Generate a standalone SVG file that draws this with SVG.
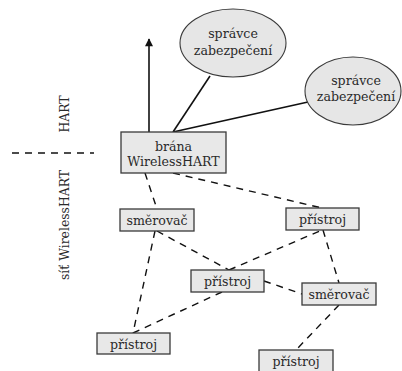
<svg xmlns="http://www.w3.org/2000/svg" width="402" height="371" viewBox="0 0 402 371">
  <defs>
    <marker id="arrow" viewBox="0 0 10 10" refX="9" refY="5" markerWidth="10" markerHeight="8" markerUnits="userSpaceOnUse" orient="auto">
      <path d="M0,0 L10,5 L0,10 Z" fill="#111"/>
    </marker>
    <style>
      .box { fill: #e8e8e8; stroke: #3a3a3a; stroke-width: 1.3; }
      .oval { fill: #e6e6e6; stroke: #3a3a3a; stroke-width: 1.1; }
      .lbl { font-family: "DejaVu Serif", "Liberation Serif", serif; font-size: 12.6px; fill: #2a2a2a; text-anchor: middle; }
      .side { font-family: "DejaVu Serif", "Liberation Serif", serif; font-size: 12.4px; fill: #2a2a2a; text-anchor: middle; }
      .solid { fill: none; stroke: #111; stroke-width: 1.6; }
      .dash { fill: none; stroke: #111; stroke-width: 1.4; stroke-dasharray: 7 6; }
    </style>
  </defs>

  <!-- region divider and side labels -->
  <g id="divider">
    <line class="dash" x1="12" y1="153" x2="94" y2="153"/>
    <text class="side" transform="translate(69,114) rotate(-90)">HART</text>
    <text class="side" transform="translate(69,225) rotate(-90)">síť WirelessHART</text>
  </g>

  <!-- connectors -->
  <g id="connectors">
    <line class="solid" x1="149" y1="132" x2="149" y2="39" marker-end="url(#arrow)"/>
    <line class="solid" x1="173" y1="132" x2="210" y2="76"/>
    <line class="solid" x1="173" y1="132" x2="308" y2="102"/>
    <line class="dash" x1="145" y1="173" x2="157" y2="209"/>
    <line class="dash" x1="173" y1="173" x2="322" y2="208"/>
    <line class="dash" x1="157" y1="231" x2="229" y2="270"/>
    <line class="dash" x1="155" y1="231" x2="133" y2="333"/>
    <line class="dash" x1="222" y1="292" x2="133" y2="333"/>
    <line class="dash" x1="229" y1="270" x2="322" y2="230"/>
    <line class="dash" x1="323" y1="230" x2="339" y2="283"/>
    <line class="dash" x1="264" y1="281" x2="302" y2="294"/>
    <line class="dash" x1="339" y1="305" x2="296" y2="350"/>
  </g>

  <g id="security-manager-1">
    <ellipse class="oval" cx="233" cy="43" rx="53" ry="34"/>
    <text class="lbl" x="233" y="38">správce</text>
    <text class="lbl" x="233" y="55">zabezpečení</text>
  </g>

  <g id="security-manager-2">
    <ellipse class="oval" cx="353" cy="91" rx="48" ry="34"/>
    <text class="lbl" x="356" y="85">správce</text>
    <text class="lbl" x="356" y="101">zabezpečení</text>
  </g>

  <g id="gateway">
    <rect class="box" x="121" y="132" width="105" height="41"/>
    <text class="lbl" x="173.5" y="151">brána</text>
    <text class="lbl" x="173.5" y="166">WirelessHART</text>
  </g>

  <g id="router-1">
    <rect class="box" x="120" y="209" width="74" height="22"/>
    <text class="lbl" x="157" y="225">směrovač</text>
  </g>

  <g id="device-1">
    <rect class="box" x="286" y="208" width="73" height="22"/>
    <text class="lbl" x="322.5" y="224">přístroj</text>
  </g>

  <g id="device-2">
    <rect class="box" x="191" y="270" width="73" height="22"/>
    <text class="lbl" x="227.5" y="286">přístroj</text>
  </g>

  <g id="router-2">
    <rect class="box" x="302" y="283" width="74" height="22"/>
    <text class="lbl" x="339" y="299">směrovač</text>
  </g>

  <g id="device-3">
    <rect class="box" x="97" y="333" width="73" height="21"/>
    <text class="lbl" x="133.5" y="349">přístroj</text>
  </g>

  <g id="device-4">
    <rect class="box" x="259" y="350" width="74" height="24"/>
    <text class="lbl" x="296" y="366">přístroj</text>
  </g>
</svg>
